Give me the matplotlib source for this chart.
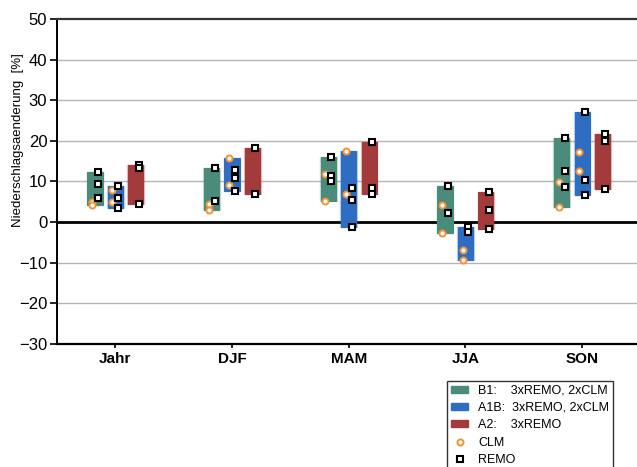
import matplotlib
matplotlib.use("Agg")
import matplotlib.pyplot as plt
from matplotlib.patches import Patch
from matplotlib.lines import Line2D

plt.rcParams['font.family'] = ['Liberation Sans', 'DejaVu Sans']

seasons = ['Jahr', 'DJF', 'MAM', 'JJA', 'SON']
scenarios = ['B1', 'A1B', 'A2']
colors = {'B1': '#4a8b7c', 'A1B': '#2d6ec2', 'A2': '#a33a3b'}

# REMO runs per scenario and season (%)
remo_b1 = [[12.3, 9.3, 5.8], [13.4, 5.2], [16.0, 11.2, 10.0], [8.9, 2.3], [20.6, 12.5, 8.5]]
remo_a1b = [[8.9, 5.8, 3.5], [12.9, 10.8, 7.5], [8.3, 5.5, -1.2], [-1.2, -2.5], [27.0, 10.3, 6.6]]
remo_a2 = [[14.1, 13.2, 4.5], [18.1, 6.8], [19.7, 8.3, 7.0], [7.4, 3.0, -1.7], [21.7, 19.9, 8.1]]

# CLM runs per scenario and season (%)
clm_b1 = [[4.9, 4.1], [4.3, 2.9], [11.8, 5.2], [4.2, -2.7], [9.8, 3.8]]
clm_a1b = [[7.9, 5.0], [15.7, 9.1], [17.6, 7.0], [-6.8, -9.4], [17.2, 12.6]]
clm_a2 = [[], [], [], [], []]

remo = {'B1': remo_b1, 'A1B': remo_a1b, 'A2': remo_a2}
clm = {'B1': clm_b1, 'A1B': clm_a1b, 'A2': clm_a2}

fig = plt.figure(figsize=(6.37, 4.67), dpi=100)
ax = fig.add_axes([57 / 637, 1 - 343.7 / 467, 1 - 57 / 637, (343.7 - 19) / 467])

offsets = [-0.175, 0.0, 0.175]
width = 0.13
for i, s in enumerate(seasons):
    x0 = i + 1
    for off, sc in zip(offsets, scenarios):
        vals = remo[sc][i] + clm[sc][i]
        lo, hi = min(vals), max(vals)
        ax.bar(x0 + off, hi - lo, bottom=lo, width=width, color=colors[sc],
               edgecolor=colors[sc], linewidth=0.8, zorder=3)
        ax.bar(x0 + off, hi - lo, bottom=lo, width=width + 0.012, color='none',
               edgecolor=colors[sc], linewidth=1.0, alpha=0.3, zorder=3)
        if clm[sc][i]:
            ax.plot([x0 + off - 0.025] * len(clm[sc][i]), clm[sc][i], 'o',
                    ms=4.4, mfc='white', mec='#f39234', mew=1.4, zorder=4)
        ax.plot([x0 + off + 0.025] * len(remo[sc][i]), remo[sc][i], 's',
                ms=4.9, mfc='white', mec='black', mew=1.5, zorder=5)

ax.set_xlim(0.5, 5.47)
ax.set_ylim(-30, 50)
ax.set_yticks(range(-30, 51, 10))
ax.set_yticklabels(['\u221230', '\u221220', '\u221210', '0', '10', '20', '30', '40', '50'])
ax.set_xticks(range(1, 6))
ax.set_xticklabels(seasons)
for yv in [-20, -10, 10, 20, 30, 40]:
    ax.axhline(yv, color='#b5b5b5', lw=1.0, zorder=1)
ax.axhline(0, color='black', lw=2.0, zorder=2)

ax.spines['right'].set_visible(False)
ax.spines['top'].set_color('#333333')
ax.spines['top'].set_linewidth(1.6)
ax.spines['left'].set_linewidth(1.4)
ax.spines['bottom'].set_linewidth(1.6)
ax.tick_params(axis='y', direction='out', length=5, width=1.2, labelsize=12, pad=2)
ax.tick_params(axis='x', direction='out', length=3, width=1.2, labelsize=11, pad=3)
for lbl in ax.get_xticklabels():
    lbl.set_fontweight('bold')
ax.set_ylabel('Niederschlagsaenderung  [%]', fontsize=9.5)
ax.yaxis.set_label_coords(-33 / 580, 0.627)

handles = [
    Patch(facecolor=colors['B1'], edgecolor=colors['B1']),
    Patch(facecolor=colors['A1B'], edgecolor=colors['A1B']),
    Patch(facecolor=colors['A2'], edgecolor=colors['A2']),
    Line2D([], [], ls='none', marker='o', ms=4.4, mfc='white', mec='#f39234', mew=1.4),
    Line2D([], [], ls='none', marker='s', ms=4.9, mfc='white', mec='black', mew=1.5),
]
labels = ['B1:    3xREMO, 2xCLM', 'A1B:  3xREMO, 2xCLM', 'A2:    3xREMO', 'CLM', 'REMO']
leg = fig.legend(handles, labels, loc='upper left', bbox_to_anchor=(447 / 637, 1 - 381 / 467),
                 fontsize=9, frameon=True, fancybox=False, borderpad=0.3,
                 labelspacing=0.42, handlelength=1.4, handleheight=0.5, handletextpad=0.8,
                 borderaxespad=0.0)
leg.get_frame().set_edgecolor('black')
leg.get_frame().set_linewidth(1.0)

fig.savefig('out.png', dpi=100)
